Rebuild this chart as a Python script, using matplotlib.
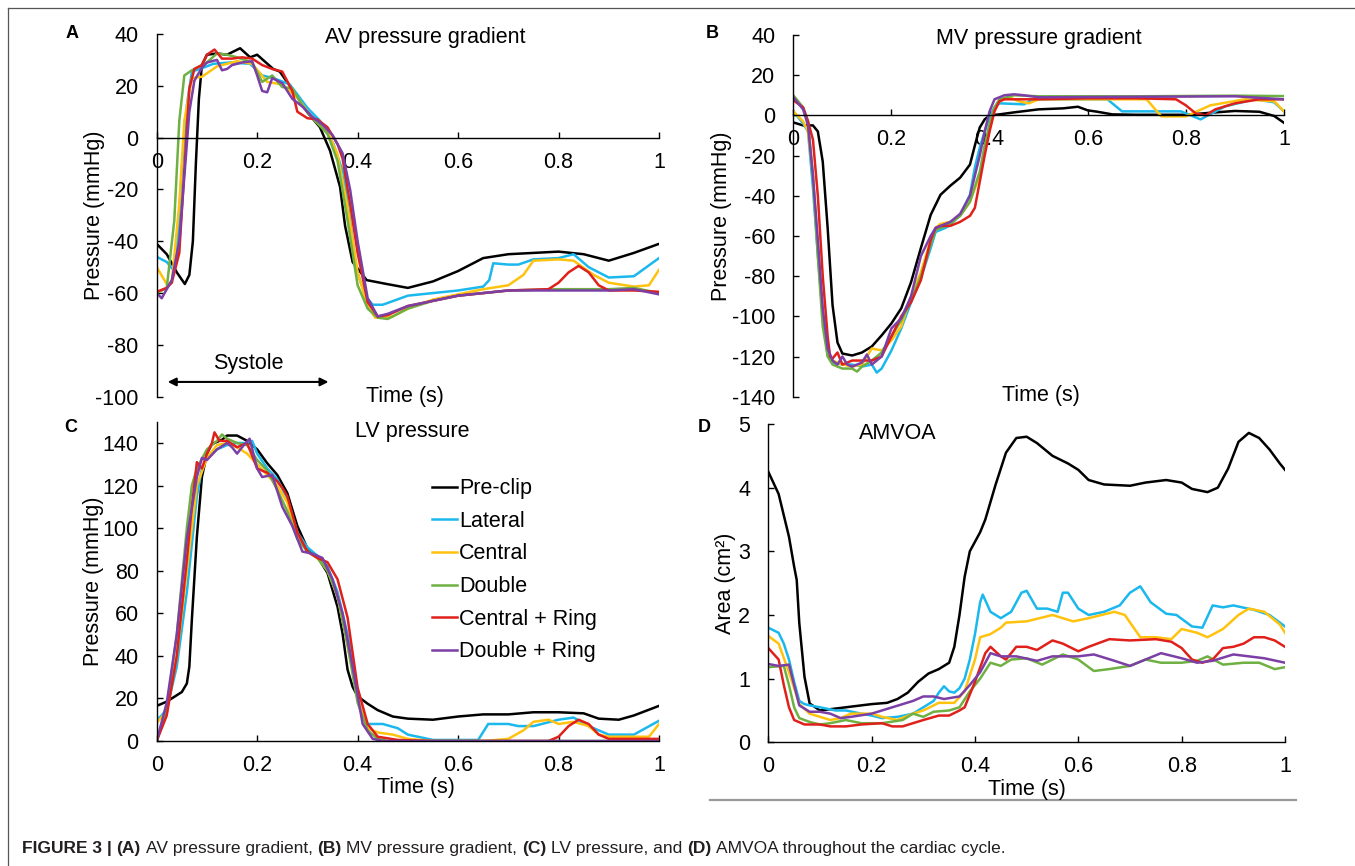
import matplotlib
matplotlib.use('Agg')
import matplotlib.pyplot as plt
from matplotlib.lines import Line2D
from matplotlib.text import Annotation

plt.rcParams['font.family'] = ['Liberation Sans', 'DejaVu Sans']

names = ['Pre-clip', 'Lateral', 'Central', 'Double', 'Central + Ring', 'Double + Ring']
colors = ['#000000', '#1ab8ec', '#ffc20e', '#6fb043', '#e0201b', '#7b3fa5']
xticks = [0, 0.2, 0.4, 0.6, 0.8, 1]
xlabels = ['0', '0.2', '0.4', '0.6', '0.8', '1']

# ---- (A) AV pressure gradient ----
av_pre_t = [0, 0.02, 0.04, 0.056, 0.065, 0.072, 0.078, 0.084, 0.09, 0.1, 0.12, 0.14, 0.166, 0.186, 0.2, 0.232, 0.245,
            0.272, 0.299, 0.325, 0.345, 0.365, 0.375, 0.39, 0.418, 0.458, 0.5, 0.55, 0.6, 0.65, 0.7, 0.75, 0.8, 0.85,
            0.9, 0.95, 1.0]
av_pre = [-41, -45, -52, -56.5, -53, -40, -10, 15, 28, 32, 32.5, 32, 34.5, 31, 32, 26.5, 25.5,
          18, 10, 4, -5, -19, -34, -48, -55, -56.5, -58, -55.5, -51.5, -46.5, -45, -44.5, -44, -45,
          -47.5, -44.5, -41]
av_lat_t = [0, 0.02, 0.033, 0.04, 0.05, 0.06, 0.07, 0.086, 0.113, 0.146, 0.186, 0.21, 0.232, 0.265, 0.3, 0.325,
            0.352, 0.372, 0.385, 0.398, 0.415, 0.43, 0.45, 0.5, 0.55, 0.6, 0.65, 0.662, 0.67, 0.7, 0.72, 0.75,
            0.8, 0.83, 0.86, 0.9, 0.95, 1.0]
av_lat = [-46, -48, -51, -44.5, -12.5, 12.5, 25.5, 26.5, 28.5, 29, 28.5, 24, 23, 20.5, 11.5, 6.5,
          -2.5, -14, -32, -51, -61, -64.5, -64.5, -61, -60, -59, -57.5, -55, -48.5, -49, -49, -47,
          -46.5, -45, -50, -54, -53.5, -46.5]
av_cen_t = [0, 0.02, 0.03, 0.045, 0.055, 0.07, 0.09, 0.12, 0.16, 0.19, 0.22, 0.25, 0.28, 0.31, 0.34, 0.36, 0.38,
            0.4, 0.42, 0.435, 0.47, 0.5, 0.55, 0.6, 0.65, 0.7, 0.73, 0.75, 0.8, 0.83, 0.87, 0.9, 0.95, 0.98, 1.0]
av_cen = [-50, -56.5, -56, -25.5, 6.5, 23, 23.5, 27.5, 29.5, 28.5, 21.5, 20.5, 15.5, 7.5, 2.5, -6.5, -27,
          -52, -65, -69.5, -69, -66, -62.5, -60.5, -58.5, -57, -53, -47.5, -47, -47.5, -53, -56, -57.5, -57, -51]
av_dbl_t = [0, 0.02, 0.035, 0.045, 0.055, 0.07, 0.1, 0.12, 0.14, 0.16, 0.19, 0.21, 0.23, 0.25, 0.27, 0.29, 0.31,
            0.34, 0.36, 0.38, 0.4, 0.42, 0.44, 0.46, 0.5, 0.55, 0.6, 0.65, 0.7, 0.8, 0.9, 0.95, 1.0]
av_dbl = [-60, -58, -32, 6.5, 24, 26, 29, 32.5, 32, 31, 29, 21.5, 24, 19.5, 19, 12.5, 7.5,
          1.5, -9, -32, -57, -66, -69.5, -70, -66, -63, -61, -60, -59, -58.5, -58.5, -58, -60]
av_cr_t = [0, 0.02, 0.03, 0.045, 0.055, 0.065, 0.075, 0.09, 0.1, 0.115, 0.13, 0.15, 0.17, 0.19, 0.21, 0.23, 0.25,
           0.27, 0.28, 0.3, 0.32, 0.34, 0.36, 0.37, 0.385, 0.4, 0.42, 0.44, 0.46, 0.5, 0.55, 0.6, 0.65, 0.7,
           0.78, 0.8, 0.82, 0.84, 0.86, 0.88, 0.9, 0.95, 1.0]
av_cr = [-59.5, -58, -56, -44.5, -12.5, 19, 26.5, 28, 32, 34, 30.5, 30.5, 31, 30.5, 28, 26.5, 25.5,
         18, 10, 7.5, 7, 4, -2.5, -8, -25.5, -44.5, -63.5, -69, -68.5, -65, -63, -61, -60, -59,
         -58.5, -56, -52, -49.5, -52, -57, -59, -59, -59.5]
av_dr_t = [0, 0.01, 0.03, 0.045, 0.055, 0.065, 0.075, 0.09, 0.1, 0.12, 0.13, 0.14, 0.15, 0.17, 0.19, 0.2, 0.21,
           0.22, 0.23, 0.25, 0.27, 0.29, 0.31, 0.33, 0.35, 0.37, 0.385, 0.4, 0.42, 0.44, 0.46, 0.5, 0.55, 0.6,
           0.7, 0.8, 0.9, 0.95, 1.0]
av_dr = [-60, -62, -55, -40, -15, 10, 22, 27, 29, 30, 26, 26.5, 28, 29, 29.5, 24, 18,
         17.5, 23, 21, 15, 12, 8, 5, 1, -6, -20, -40, -62, -69, -68, -65, -63, -61,
         -59, -59, -59, -58.5, -60.5]

# ---- (B) MV pressure gradient ----
mv_pre_t = [0, 0.02, 0.04, 0.05, 0.06, 0.07, 0.08, 0.09, 0.1, 0.12, 0.14, 0.16, 0.18, 0.2, 0.22, 0.24, 0.26, 0.28,
            0.3, 0.32, 0.34, 0.36, 0.37, 0.38, 0.39, 0.4, 0.42, 0.45, 0.5, 0.55, 0.58, 0.6, 0.62, 0.65, 0.7, 0.8,
            0.85, 0.9, 0.95, 0.98, 1.0]
mv_pre = [-3.5, -5, -5, -8, -23, -56, -94.5, -113, -118.5, -119.5, -118, -115, -109.5, -103.5, -96, -83, -66, -49.5,
          -39.5, -35, -31, -24.5, -15, -6, -2, 0, 0.5, 1.5, 3, 3.5, 4.3, 2.5, 1.8, 0.5, 0.3, 0.3,
          1.3, 2.2, 1.8, -0.3, -3.7]
mv_lat_t = [0, 0.01, 0.02, 0.03, 0.04, 0.05, 0.06, 0.07, 0.08, 0.1, 0.12, 0.14, 0.16, 0.17, 0.18, 0.2, 0.22, 0.24,
            0.26, 0.28, 0.29, 0.3, 0.31, 0.32, 0.34, 0.36, 0.37, 0.38, 0.39, 0.4, 0.41, 0.42, 0.47, 0.49, 0.64,
            0.67, 0.79, 0.83, 0.88, 0.94, 0.98, 1.0]
mv_lat = [2, -1, -4, -8, -36, -69.5, -99.5, -119.5, -123, -124, -124, -125, -124, -128, -126, -117, -106, -93,
          -81, -66, -58, -57, -56, -54.5, -49.5, -39.5, -26, -16, -8, -1, 4, 6, 5.5, 8, 8,
          2, 2, -2, 4.5, 8, 6.5, 2]
mv_cen_t = [0, 0.02, 0.03, 0.04, 0.05, 0.06, 0.07, 0.08, 0.1, 0.12, 0.14, 0.16, 0.18, 0.2, 0.22, 0.24, 0.26, 0.28,
            0.29, 0.3, 0.32, 0.34, 0.36, 0.38, 0.39, 0.4, 0.41, 0.42, 0.44, 0.46, 0.48, 0.5, 0.72, 0.75, 0.8,
            0.85, 0.92, 0.98, 1.0]
mv_cen = [2, -3, -8, -30, -65, -98, -118, -122, -124, -125, -124, -116, -117, -112, -105, -90, -78, -62,
          -56, -54, -53, -50, -43, -30, -18, -5, 3, 7, 9, 7, 6, 8, 8, -0.5, -0.5,
          5, 8, 7, 2]
mv_dbl_t = [0, 0.02, 0.03, 0.04, 0.05, 0.06, 0.07, 0.08, 0.1, 0.12, 0.13, 0.14, 0.16, 0.18, 0.2, 0.22, 0.24, 0.26,
            0.28, 0.29, 0.3, 0.32, 0.34, 0.36, 0.38, 0.39, 0.4, 0.41, 0.42, 0.45, 0.5, 0.7, 0.9, 1.0]
mv_dbl = [10, 4, -3, -30, -70, -105, -120, -124, -126, -126, -127.5, -125, -122, -118, -110, -102, -92, -80,
          -64, -57, -56, -54, -50, -43, -28, -15, -4, 4, 8, 10, 9.5, 9.5, 9.8, 9.6]
mv_cr_t = [0, 0.02, 0.03, 0.04, 0.05, 0.06, 0.07, 0.075, 0.08, 0.09, 0.1, 0.12, 0.14, 0.16, 0.18, 0.2, 0.22, 0.24,
           0.26, 0.28, 0.29, 0.3, 0.32, 0.33, 0.34, 0.36, 0.37, 0.38, 0.39, 0.4, 0.41, 0.42, 0.43, 0.5, 0.6,
           0.7, 0.78, 0.8, 0.82, 0.84, 0.86, 0.9, 0.95, 1.0]
mv_cr = [7.5, 4, -3, -12, -40, -80, -110, -120, -121, -118, -124, -122, -122, -122, -120, -110, -100, -93,
         -82, -62, -56, -55, -55, -54, -53, -50, -46, -33, -20, -8, 2, 7, 8, 8, 8.5,
         8.5, 8, 5, 1, 0, 3, 6, 8, 8]
mv_dr_t = [0, 0.02, 0.03, 0.04, 0.05, 0.06, 0.07, 0.08, 0.09, 0.1, 0.11, 0.12, 0.14, 0.15, 0.16, 0.17, 0.18, 0.2,
           0.22, 0.24, 0.26, 0.28, 0.29, 0.3, 0.32, 0.34, 0.36, 0.38, 0.39, 0.4, 0.41, 0.43, 0.45, 0.47, 0.5,
           0.9, 1.0]
mv_dr = [9, 3, -5, -30, -62, -96, -116, -122, -124, -120, -124, -125, -123, -119, -124, -122, -120, -106,
         -101, -90, -70, -60, -56, -55, -53, -49, -40, -20, -8, 2, 8, 10, 10.5, 10, 9,
         9.5, 8]

# ---- (C) LV pressure ----
lv_pre_t = [0, 0.02, 0.04, 0.05, 0.06, 0.065, 0.07, 0.08, 0.09, 0.1, 0.11, 0.13, 0.14, 0.16, 0.18, 0.2, 0.22, 0.24,
            0.26, 0.28, 0.3, 0.32, 0.34, 0.36, 0.37, 0.38, 0.39, 0.4, 0.42, 0.44, 0.47, 0.5, 0.55, 0.6, 0.65,
            0.7, 0.75, 0.8, 0.85, 0.88, 0.92, 0.95, 1.0]
lv_pre = [16.5, 18.5, 21.5, 23, 27, 35, 57, 96, 124, 135, 139.5, 141.5, 143.5, 143.5, 141, 137, 130.5, 125,
          116.5, 101, 90.5, 86.5, 79, 63, 50.5, 33.5, 25.5, 21, 17.5, 14.5, 11.5, 10.5, 10, 11.5, 12.5,
          12.5, 13.5, 13.5, 13, 10.5, 10, 12, 16.5]
lv_lat_t = [0, 0.01, 0.02, 0.04, 0.06, 0.08, 0.09, 0.1, 0.12, 0.14, 0.16, 0.18, 0.19, 0.2, 0.22, 0.24, 0.26, 0.28,
            0.3, 0.32, 0.34, 0.36, 0.38, 0.39, 0.4, 0.41, 0.42, 0.45, 0.48, 0.5, 0.55, 0.6, 0.64, 0.66, 0.7,
            0.72, 0.75, 0.8, 0.83, 0.86, 0.9, 0.95, 1.0]
lv_lat = [10, 12, 15, 35, 70, 115, 128, 133, 137, 139, 140, 140, 141, 135, 128, 123, 114, 98,
          91, 87, 82, 70, 50, 35, 20, 12, 8, 8, 6, 3, 0.5, 0.5, 0.5, 8, 8,
          7, 7, 10, 11, 7, 3, 3, 9.5]
lv_cen_t = [0, 0.02, 0.04, 0.06, 0.08, 0.1, 0.12, 0.14, 0.16, 0.18, 0.2, 0.22, 0.24, 0.26, 0.28, 0.3, 0.32, 0.34,
            0.36, 0.38, 0.4, 0.42, 0.44, 0.47, 0.5, 0.55, 0.65, 0.7, 0.73, 0.75, 0.78, 0.8, 0.83, 0.86, 0.88,
            0.9, 0.95, 0.98, 1.0]
lv_cen = [8.5, 14, 40, 80, 120, 133, 139, 140, 138, 135, 130, 125, 120, 112, 96, 89, 86, 80,
          68, 45, 20, 6, 4, 3, 1, 0, 0, 1, 5, 9, 10, 8, 9, 7, 3,
          2, 2, 2, 8]
lv_dbl_t = [0, 0.02, 0.04, 0.06, 0.07, 0.08, 0.1, 0.12, 0.13, 0.14, 0.16, 0.18, 0.2, 0.22, 0.24, 0.26, 0.28, 0.3,
            0.32, 0.34, 0.36, 0.38, 0.4, 0.42, 0.44, 0.46, 1.0]
lv_dbl = [0, 15, 50, 100, 120, 128, 137, 141, 144, 142, 140, 139, 132, 127, 118, 108, 95, 89,
          86, 80, 68, 45, 18, 5, 1, 0, 0]
lv_cr_t = [0, 0.02, 0.04, 0.06, 0.07, 0.08, 0.09, 0.1, 0.11, 0.115, 0.125, 0.14, 0.16, 0.18, 0.2, 0.22, 0.24, 0.25,
           0.26, 0.28, 0.3, 0.32, 0.34, 0.36, 0.38, 0.4, 0.42, 0.44, 0.48, 0.55, 0.78, 0.8, 0.82, 0.84, 0.86,
           0.88, 0.9, 1.0]
lv_cr = [0, 12, 40, 85, 110, 131, 128, 135, 140, 145, 141, 141, 138, 140, 128, 126, 122, 119,
         115, 98, 89, 86, 84, 76, 58, 25, 8, 2, 0.5, 0, 0, 2, 7, 10, 8,
         3, 1, 1]
lv_dr_t = [0, 0.02, 0.04, 0.06, 0.08, 0.09, 0.1, 0.12, 0.14, 0.15, 0.16, 0.17, 0.185, 0.2, 0.21, 0.23, 0.25, 0.27,
           0.29, 0.31, 0.33, 0.35, 0.37, 0.39, 0.41, 0.43, 0.45, 1.0]
lv_dr = [0, 18, 50, 95, 124, 133, 132, 137, 140, 138, 135, 138, 142, 128, 124, 125, 110, 101,
         89, 88, 86, 76, 60, 35, 8, 1, 0, 0]

# ---- (D) AMVOA ----
ao_pre_t = [0, 0.02, 0.04, 0.05, 0.055, 0.06, 0.07, 0.08, 0.1, 0.12, 0.15, 0.2, 0.23, 0.25, 0.27, 0.29, 0.31, 0.33,
            0.35, 0.36, 0.37, 0.38, 0.39, 0.41, 0.42, 0.44, 0.46, 0.48, 0.5, 0.52, 0.55, 0.58, 0.6, 0.62, 0.65,
            0.7, 0.73, 0.77, 0.8, 0.82, 0.85, 0.87, 0.89, 0.91, 0.93, 0.95, 0.97, 0.99, 1.0]
ao_pre = [4.25, 3.9, 3.23, 2.76, 2.55, 1.87, 1.03, 0.61, 0.5, 0.52, 0.55, 0.6, 0.62, 0.68, 0.78, 0.95, 1.08, 1.15,
          1.25, 1.5, 2.0, 2.6, 3.0, 3.3, 3.5, 4.05, 4.55, 4.78, 4.8, 4.7, 4.5, 4.38, 4.28, 4.12, 4.05,
          4.03, 4.08, 4.12, 4.08, 3.98, 3.93, 4.0, 4.3, 4.72, 4.86, 4.78, 4.6, 4.38, 4.28]
ao_lat_t = [0, 0.02, 0.03, 0.04, 0.05, 0.06, 0.07, 0.08, 0.1, 0.13, 0.15, 0.18, 0.2, 0.22, 0.25, 0.28, 0.3, 0.32,
            0.33, 0.34, 0.35, 0.36, 0.37, 0.38, 0.39, 0.4, 0.41, 0.415, 0.43, 0.45, 0.47, 0.49, 0.5, 0.52, 0.54,
            0.56, 0.57, 0.58, 0.6, 0.62, 0.65, 0.68, 0.7, 0.72, 0.74, 0.77, 0.79, 0.82, 0.84, 0.86, 0.88, 0.9,
            0.94, 0.97, 1.0]
ao_lat = [1.8, 1.72, 1.55, 1.3, 0.95, 0.65, 0.6, 0.58, 0.55, 0.5, 0.5, 0.45, 0.42, 0.38, 0.4, 0.45, 0.55, 0.65,
          0.78, 0.88, 0.8, 0.78, 0.85, 1.0, 1.3, 1.7, 2.2, 2.32, 2.05, 1.95, 2.05, 2.35, 2.38, 2.1, 2.1,
          2.05, 2.35, 2.35, 2.1, 2.0, 2.05, 2.15, 2.35, 2.45, 2.2, 2.02, 2.0, 1.82, 1.8, 2.15, 2.12, 2.15,
          2.08, 2.0, 1.82]
ao_cen_t = [0, 0.02, 0.04, 0.06, 0.08, 0.1, 0.12, 0.14, 0.16, 0.2, 0.22, 0.25, 0.28, 0.3, 0.33, 0.36, 0.38, 0.4,
            0.41, 0.43, 0.45, 0.46, 0.5, 0.55, 0.59, 0.62, 0.67, 0.69, 0.72, 0.75, 0.78, 0.8, 0.83, 0.85, 0.88,
            0.91, 0.93, 0.96, 0.99, 1.0]
ao_cen = [1.67, 1.55, 1.1, 0.6, 0.45, 0.4, 0.35, 0.38, 0.45, 0.45, 0.4, 0.35, 0.45, 0.5, 0.62, 0.62, 0.8, 1.3,
          1.65, 1.7, 1.8, 1.88, 1.9, 2.0, 1.9, 1.95, 2.05, 2.0, 1.65, 1.65, 1.62, 1.78, 1.72, 1.65, 1.78,
          2.0, 2.1, 2.05, 1.85, 1.72]
ao_dbl_t = [0, 0.03, 0.04, 0.05, 0.06, 0.08, 0.1, 0.12, 0.15, 0.18, 0.22, 0.26, 0.28, 0.3, 0.32, 0.35, 0.37, 0.39,
            0.41, 0.43, 0.45, 0.47, 0.5, 0.53, 0.55, 0.57, 0.6, 0.63, 0.66, 0.7, 0.73, 0.76, 0.8, 0.83, 0.85,
            0.88, 0.92, 0.95, 0.98, 1.0]
ao_dbl = [1.18, 1.2, 0.9, 0.55, 0.38, 0.32, 0.28, 0.3, 0.35, 0.3, 0.3, 0.35, 0.45, 0.4, 0.48, 0.5, 0.55, 0.8,
          1.0, 1.25, 1.2, 1.3, 1.32, 1.22, 1.3, 1.38, 1.3, 1.12, 1.15, 1.2, 1.3, 1.25, 1.25, 1.28, 1.35,
          1.22, 1.25, 1.25, 1.15, 1.18]
ao_cr_t = [0, 0.02, 0.03, 0.04, 0.05, 0.07, 0.1, 0.12, 0.15, 0.18, 0.22, 0.24, 0.26, 0.28, 0.3, 0.33, 0.35, 0.37,
           0.38, 0.4, 0.42, 0.43, 0.45, 0.46, 0.48, 0.5, 0.52, 0.55, 0.57, 0.6, 0.62, 0.66, 0.7, 0.75, 0.78,
           0.8, 0.82, 0.84, 0.86, 0.88, 0.9, 0.92, 0.94, 0.96, 0.98, 1.0]
ao_cr = [1.48, 1.3, 0.9, 0.55, 0.35, 0.28, 0.28, 0.25, 0.25, 0.28, 0.3, 0.25, 0.25, 0.3, 0.35, 0.42, 0.42, 0.5,
         0.55, 0.95, 1.4, 1.5, 1.35, 1.3, 1.5, 1.5, 1.45, 1.6, 1.55, 1.43, 1.5, 1.62, 1.6, 1.62, 1.58,
         1.48, 1.3, 1.25, 1.3, 1.48, 1.5, 1.55, 1.65, 1.65, 1.6, 1.5]
ao_dr_t = [0, 0.02, 0.04, 0.05, 0.06, 0.08, 0.1, 0.12, 0.14, 0.16, 0.2, 0.24, 0.28, 0.3, 0.32, 0.34, 0.37, 0.39,
           0.41, 0.43, 0.45, 0.48, 0.52, 0.55, 0.6, 0.63, 0.67, 0.7, 0.73, 0.76, 0.8, 0.83, 0.86, 0.9, 0.93,
           0.96, 1.0]
ao_dr = [1.23, 1.2, 1.22, 0.9, 0.58, 0.48, 0.48, 0.45, 0.38, 0.4, 0.45, 0.55, 0.65, 0.72, 0.72, 0.68, 0.72, 0.9,
         1.1, 1.4, 1.35, 1.35, 1.28, 1.35, 1.35, 1.38, 1.28, 1.2, 1.3, 1.4, 1.32, 1.25, 1.28, 1.38, 1.35,
         1.32, 1.25]

av_series = [(av_pre_t, av_pre), (av_lat_t, av_lat), (av_cen_t, av_cen), (av_dbl_t, av_dbl), (av_cr_t, av_cr), (av_dr_t, av_dr)]
mv_series = [(mv_pre_t, mv_pre), (mv_lat_t, mv_lat), (mv_cen_t, mv_cen), (mv_dbl_t, mv_dbl), (mv_cr_t, mv_cr), (mv_dr_t, mv_dr)]
lv_series = [(lv_pre_t, lv_pre), (lv_lat_t, lv_lat), (lv_cen_t, lv_cen), (lv_dbl_t, lv_dbl), (lv_cr_t, lv_cr), (lv_dr_t, lv_dr)]
ao_series = [(ao_pre_t, ao_pre), (ao_lat_t, ao_lat), (ao_cen_t, ao_cen), (ao_dbl_t, ao_dbl), (ao_cr_t, ao_cr), (ao_dr_t, ao_dr)]

W, H = 1355, 866
FS = 15.5
fig = plt.figure(figsize=(W / 100, H / 100), dpi=100)


def px(x0, y0, x1, y1):
    # pixel box (left, top, right, bottom) -> figure rect
    return [x0 / W, 1 - y1 / H, (x1 - x0) / W, (y1 - y0) / H]


def setup(ax, series, ylim, yticks, zero_axis=False):
    for (t, v), c, n in zip(series, colors, names):
        ax.plot(t, v, color=c, lw=1.8, label=n)
    ax.set_xlim(0, 1)
    ax.set_ylim(*ylim)
    ax.set_xticks(xticks)
    ax.set_xticklabels(xlabels)
    ax.set_yticks(yticks)
    ax.set_yticklabels([str(y) for y in yticks])
    for s in ['top', 'right']:
        ax.spines[s].set_visible(False)
    for s in ['left', 'bottom']:
        ax.spines[s].set_linewidth(1.0)
    if zero_axis:
        ax.spines['bottom'].set_position(('data', 0))
    ax.tick_params(axis='both', direction='in', length=4, width=1.0, labelsize=FS)
    ax.tick_params(axis='y', pad=13)
    ax.tick_params(axis='x', pad=10)
    ax.patch.set_alpha(0)


axA = fig.add_axes(px(156.7, 34, 659, 396.7))
setup(axA, av_series, (-100, 40), list(range(-100, 41, 20)), zero_axis=True)
axB = fig.add_axes(px(793.3, 35, 1284, 396.7))
setup(axB, mv_series, (-140, 40), list(range(-140, 41, 20)), zero_axis=True)
axC = fig.add_axes(px(156.7, 421.7, 659, 741))
setup(axC, lv_series, (0, 150), list(range(0, 141, 20)))
axD = fig.add_axes(px(768.3, 424, 1285, 742.3))
setup(axD, ao_series, (0, 5), [0, 1, 2, 3, 4, 5])

# panel titles
axA.text(0.535, 0.99, 'AV pressure gradient', transform=axA.transAxes, ha='center', va='center', fontsize=FS)
axB.text(0.5, 0.99, 'MV pressure gradient', transform=axB.transAxes, ha='center', va='center', fontsize=FS)
axC.text(0.509, 0.97, 'LV pressure', transform=axC.transAxes, ha='center', va='center', fontsize=FS)
axD.text(0.25, 0.97, 'AMVOA', transform=axD.transAxes, ha='center', va='center', fontsize=FS)

# axis titles
for x, y, s in [(405, 397, 'Time (s)'), (1041, 396, 'Time (s)'), (416, 788, 'Time (s)'), (1027, 789, 'Time (s)')]:
    fig.text(x / W, 1 - y / H, s, ha='center', va='center', fontsize=FS)
for x, y, s in [(95, 215, 'Pressure (mmHg)'), (722, 216, 'Pressure (mmHg)'),
                (94, 581, 'Pressure (mmHg)'), (726, 583, 'Area (cm²)')]:
    fig.text(x / W, 1 - y / H, s, ha='center', va='center', rotation=90, fontsize=FS)

# panel letters
for x, y, s in [(72, 34, 'A'), (712, 34, 'B'), (71, 427, 'C'), (704, 427, 'D')]:
    fig.text(x / W, 1 - y / H, s, ha='center', va='center', fontsize=13, fontweight='bold')

# systole marker
axA.annotate('', xy=(0.022, -94.3), xytext=(0.342, -94.3),
             arrowprops=dict(arrowstyle='<|-|>', color='black', lw=1.5, mutation_scale=12, shrinkA=0, shrinkB=0))
axA.text(0.182, -87.3, 'Systole', ha='center', va='center', fontsize=FS)

# legend
axC.legend(loc='upper left', bbox_to_anchor=(0.548, 0.823), frameon=False, fontsize=FS,
           handlelength=1.17, handletextpad=0.1, labelspacing=0.54, borderpad=0, borderaxespad=0)

# page frame and rule
fig.add_artist(Line2D([8 / W, 8 / W], [1 - 8 / H, 0], transform=fig.transFigure, color='#555555', lw=0.9))
fig.add_artist(Line2D([8 / W, 1], [1 - 8 / H, 1 - 8 / H], transform=fig.transFigure, color='#555555', lw=0.9))
fig.add_artist(Line2D([710 / W, 1296 / W], [1 - 800 / H, 1 - 800 / H], transform=fig.transFigure, color='#999999', lw=1.6))

# caption, bold and regular pieces chained one after another
parts = [('FIGURE 3 |', True), ('(A)', True), ('AV pressure gradient,', False), ('(B)', True),
         ('MV pressure gradient,', False), ('(C)', True), ('LV pressure, and', False), ('(D)', True),
         ('AMVOA throughout the cardiac cycle.', False)]
cap_fs = 12.5
prev = fig.text(22 / W, 1 - 849 / H, parts[0][0], fontsize=cap_fs, fontweight='bold', va='center', color='#231f20')
for s, b in parts[1:]:
    ann = Annotation(s, xy=(1, 0), xycoords=prev, xytext=(3.4, 0), textcoords='offset points',
                     va='bottom', ha='left', fontsize=cap_fs, fontweight='bold' if b else 'normal', color='#231f20')
    fig.add_artist(ann)
    prev = ann

fig.savefig('out.png', dpi=100)
